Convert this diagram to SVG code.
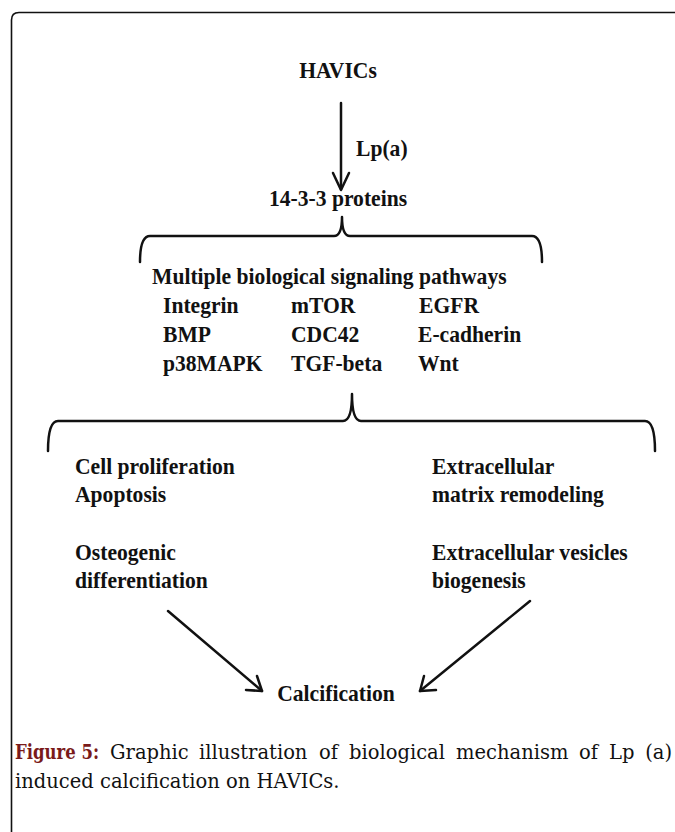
<svg xmlns="http://www.w3.org/2000/svg" width="675" height="832" viewBox="0 0 675 832">
<style>
.t{font-family:"Liberation Serif","Times New Roman",serif;font-weight:bold;font-size:24px;fill:#111}
.c{font-family:"DejaVu Serif","Liberation Serif",serif;font-size:19.5px;fill:#111}
.cb{font-weight:bold;fill:#7a1a1a}
.ln{fill:none;stroke:#111;stroke-width:2.5;stroke-linecap:round;stroke-linejoin:round}
</style>
<rect width="675" height="832" fill="#fff"/>
<path d="M11.5,900 V20 Q11.5,12.5 19,12.5 H720" fill="none" stroke="#111" stroke-width="1.6"/>
<g id="havics"><text class="t" x="0" y="78" text-anchor="middle" transform="matrix(0.9 0 0 1 338 0)">HAVICs</text></g>
<g id="proteins"><text class="t" x="0" y="206" text-anchor="middle" transform="matrix(0.9 0 0 1 338 0)">14-3-3 proteins</text></g>
<g id="pathways">
<text class="t" x="0" y="284" transform="matrix(0.9 0 0 1 152 0)">Multiple biological signaling pathways</text>
<text class="t" x="0" y="313" transform="matrix(0.9 0 0 1 163 0)">Integrin</text>
<text class="t" x="0" y="313" transform="matrix(0.9 0 0 1 291 0)">mTOR</text>
<text class="t" x="0" y="313" transform="matrix(0.9 0 0 1 419 0)">EGFR</text>
<text class="t" x="0" y="342" transform="matrix(0.9 0 0 1 163 0)">BMP</text>
<text class="t" x="0" y="342" transform="matrix(0.9 0 0 1 291 0)">CDC42</text>
<text class="t" x="0" y="342" transform="matrix(0.9 0 0 1 418 0)">E-cadherin</text>
<text class="t" x="0" y="371" transform="matrix(0.9 0 0 1 163 0)">p38MAPK</text>
<text class="t" x="0" y="371" transform="matrix(0.9 0 0 1 291 0)">TGF-beta</text>
<text class="t" x="0" y="371" transform="matrix(0.9 0 0 1 418 0)">Wnt</text>
</g>
<g id="left-effects">
<text class="t" x="0" y="474" transform="matrix(0.9 0 0 1 75 0)">Cell proliferation</text>
<text class="t" x="0" y="502" transform="matrix(0.9 0 0 1 75 0)">Apoptosis</text>
<text class="t" x="0" y="560" transform="matrix(0.9 0 0 1 75 0)">Osteogenic</text>
<text class="t" x="0" y="588" transform="matrix(0.9 0 0 1 75 0)">differentiation</text>
</g>
<g id="right-effects">
<text class="t" x="0" y="474" transform="matrix(0.9 0 0 1 432 0)">Extracellular</text>
<text class="t" x="0" y="502" transform="matrix(0.9 0 0 1 432 0)">matrix remodeling</text>
<text class="t" x="0" y="560" transform="matrix(0.9 0 0 1 432 0)">Extracellular vesicles</text>
<text class="t" x="0" y="588" transform="matrix(0.9 0 0 1 432 0)">biogenesis</text>
</g>
<g id="calcification"><text class="t" x="0" y="701" text-anchor="middle" transform="matrix(0.9 0 0 1 336 0)">Calcification</text></g>
<g id="connectors">
<path class="ln" d="M341,103 V189"/>
<path class="ln" d="M333,173 L341,190 L349,173"/>
<text class="t" x="0" y="156" transform="matrix(0.9 0 0 1 356 0)">Lp(a)</text>
<path class="ln" d="M140,262 Q140,236 150,236 H334 Q342,236 342,217 Q342,236 350,236 H532 Q542,236 542,262"/>
<path class="ln" d="M48,451 Q48,421 58,421 H343 Q352,421 352,394 Q352,421 361,421 H645 Q655,421 655,451"/>
<path class="ln" d="M168,611 L262,691"/>
<path class="ln" d="M246,690 L262,691 L257,676"/>
<path class="ln" d="M530,601 L420,691"/>
<path class="ln" d="M424,676 L420,691 L436,690"/>
</g>
<g id="caption">
<text class="c" y="759"><tspan class="cb" x="15" textLength="84" lengthAdjust="spacingAndGlyphs">Figure 5:</tspan><tspan x="110">Graphic</tspan><tspan x="199">illustration</tspan><tspan x="319">of</tspan><tspan x="349">biological</tspan><tspan x="456">mechanism</tspan><tspan x="579">of</tspan><tspan x="609">Lp</tspan><tspan x="672" text-anchor="end">(a)</tspan></text>
<text class="c" x="15" y="788">induced calcification on HAVICs.</text>
</g>
</svg>
